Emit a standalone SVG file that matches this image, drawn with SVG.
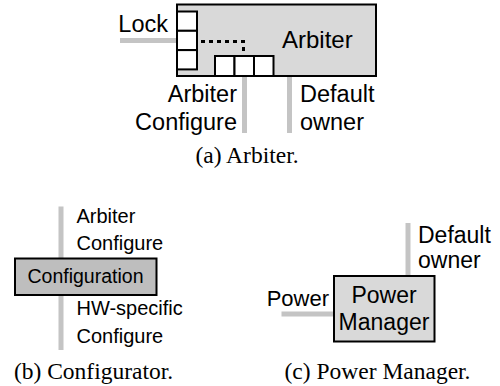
<svg xmlns="http://www.w3.org/2000/svg" width="500" height="386" viewBox="0 0 500 386">
<style>
text{font-family:"Liberation Sans",Arial,Helvetica,sans-serif;fill:#000}
.cap{font-family:"Liberation Serif","Times New Roman",serif;font-size:23.5px;text-anchor:middle}
.wire{stroke:#c4c4c4;stroke-width:5;fill:none}
.box{stroke:#000;stroke-width:2}
.sq{fill:#fff;stroke:#000;stroke-width:2}
.la{font-size:23.5px}
.lb{font-size:20px}
.lc{font-size:23px}
</style>
<rect width="500" height="386" fill="#fff"/>
<g id="connectors">
<path class="wire" d="M120 40.5H177"/>
<path class="wire" d="M244.5 76V133"/>
<path class="wire" d="M289.5 76V133"/>
<path class="wire" d="M61 206.5V350"/>
<path class="wire" d="M408 223V276"/>
<path class="wire" d="M281.5 314H334"/>
</g>
<g id="arbiter">
<rect class="box" x="177" y="4.5" width="199" height="71.5" fill="#d9d9d9"/>
<rect class="sq" x="177" y="11.5" width="20" height="19.3"/>
<rect class="sq" x="177" y="30.8" width="20" height="19.3"/>
<rect class="sq" x="177" y="50.1" width="20" height="19.3"/>
<rect class="sq" x="215" y="56" width="19.5" height="20"/>
<rect class="sq" x="234.5" y="56" width="19.5" height="20"/>
<rect class="sq" x="254" y="56" width="19.5" height="20"/>
<path d="M201 41.5H243.5V55" fill="none" stroke="#000" stroke-width="3" stroke-dasharray="4 4"/>
<text x="282" y="48" style="font-size:24px">Arbiter</text>
</g>
<g id="arbiter-labels">
<text class="la" x="168" y="32" text-anchor="end">Lock</text>
<text class="la" x="237" y="101.5" text-anchor="end">Arbiter</text>
<text class="la" x="237" y="130" text-anchor="end">Configure</text>
<text class="la" x="300" y="101.5">Default</text>
<text class="la" x="300" y="130">owner</text>
<text class="cap" x="247" y="163">(a) Arbiter.</text>
</g>
<g id="configuration">
<rect class="box" x="15" y="258.5" width="141.5" height="36.5" fill="#bebebe"/>
<text x="85.5" y="283" text-anchor="middle" style="font-size:19.5px">Configuration</text>
</g>
<g id="configuration-labels">
<text class="lb" x="76.5" y="223">Arbiter</text>
<text class="lb" x="76.5" y="249.5">Configure</text>
<text class="lb" x="76.5" y="315">HW-specific</text>
<text class="lb" x="76.5" y="343">Configure</text>
<text class="cap" x="93.5" y="379">(b) Configurator.</text>
</g>
<g id="power-manager">
<rect class="box" x="334" y="276" width="100.5" height="65.5" fill="#d9d9d9"/>
<text class="lc" x="384" y="302.5" text-anchor="middle">Power</text>
<text class="lc" x="384" y="330" text-anchor="middle">Manager</text>
</g>
<g id="power-labels">
<text x="329" y="306" text-anchor="end" style="font-size:22px">Power</text>
<text class="lc" x="418" y="243">Default</text>
<text class="lc" x="418" y="268">owner</text>
<text class="cap" x="377.5" y="379">(c) Power Manager.</text>
</g>
</svg>
